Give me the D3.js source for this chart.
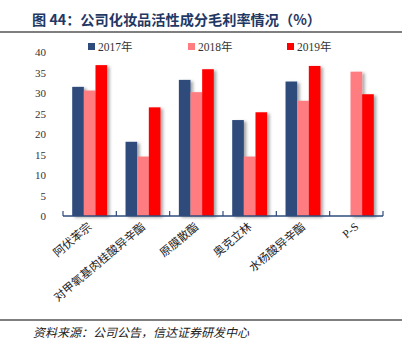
<!DOCTYPE html>
<html><head><meta charset="utf-8">
<script src="https://cdn.jsdelivr.net/npm/d3@7"></script>
<style>body{margin:0;background:#fff;}svg{display:block;}</style>
</head><body>
<svg id="c" width="408" height="342"></svg>
<script>
const categories = ["阿伏苯宗","对甲氧基肉桂酸异辛酯","原膜散酯","奥克立林","水杨酸异辛酯","P-S"];
const seriesNames = ["2017年","2018年","2019年"];
const s2017 = [31.5, 18.1, 33.2, 23.4, 32.8, null];
const s2018 = [30.6, 14.5, 30.2, 14.5, 28.1, 35.2];
const s2019 = [36.8, 26.5, 35.8, 25.3, 36.6, 29.7];
const yTicks = [0,5,10,15,20,25,30,35,40];
const colors = ["#2F4B7C","#FF7C80","#FF0000"];
const title = "图 44：公司化妆品活性成分毛利率情况（%）";
const source = "资料来源：公司公告，信达证券研发中心";

const svg = d3.select("#c");
const serif = "'Times New Roman','Liberation Serif','Noto Sans CJK SC',serif";
const cjk = "'Noto Sans CJK SC',sans-serif";

// title
svg.append("text").attr("x",32).attr("y",25).attr("font-family",cjk).attr("font-weight","bold")
  .attr("font-size",14.2).attr("fill","#1F3864").text(title);
svg.append("line").attr("x1",0).attr("x2",402).attr("y1",32).attr("y2",32).attr("stroke","#555").attr("stroke-width",1.5);

const x0 = d3.scaleBand().domain(categories).range([63,383]).paddingInner(0).paddingOuter(0);
const x1 = d3.scaleBand().domain(seriesNames).range([9.2, x0.bandwidth()-9.2]).padding(0);
const y = d3.scaleLinear().domain([0,40]).range([216,52]);

const defs = svg.append("defs");
const f = defs.append("filter").attr("id","sh").attr("x","-20%").attr("y","-5%").attr("width","160%").attr("height","110%");
f.append("feDropShadow").attr("dx",2.5).attr("dy",1.5).attr("stdDeviation",1.5).attr("flood-color","#000").attr("flood-opacity",0.35);

// y labels
svg.append("g").selectAll("text").data(yTicks).join("text")
  .attr("x",46).attr("y",d=>y(d)+4).attr("text-anchor","end")
  .attr("font-family",serif).attr("font-size",11).attr("fill","#333").text(d=>d);

const data = [s2017,s2018,s2019];
seriesNames.forEach((s,si)=>{
  svg.append("g").attr("filter","url(#sh)").selectAll("rect")
    .data(categories.map((c,i)=>({c,v:data[si][i]})).filter(d=>d.v!=null))
    .join("rect")
    .attr("x",d=>x0(d.c)+x1(s)).attr("width",x1.bandwidth())
    .attr("y",d=>y(d.v)).attr("height",d=>y(0)-y(d.v))
    .attr("fill",colors[si]);
});

// x axis
const ax = svg.append("g");
ax.append("line").attr("x1",63).attr("x2",383).attr("y1",216).attr("y2",216).attr("stroke","#2F4B7C").attr("stroke-width",1.5);
const bounds = categories.map(c=>x0(c)).concat([383]);
ax.selectAll("line.t").data(bounds).join("line").attr("class","t")
  .attr("x1",d=>d).attr("x2",d=>d).attr("y1",216).attr("y2",211).attr("stroke","#2F4B7C").attr("stroke-width",1.2);

svg.append("g").selectAll("text").data(categories).join("text")
  .attr("transform",d=>`translate(${x0(d)+x0.bandwidth()/2+3},${228}) rotate(-40)`)
  .attr("text-anchor","end").attr("font-family",serif).attr("font-size",11.5).attr("fill","#222").text(d=>d);

// legend
const lx = [88,188,287];
seriesNames.forEach((s,i)=>{
  svg.append("rect").attr("x",lx[i]).attr("y",43).attr("width",7).attr("height",7).attr("fill",colors[i]);
  svg.append("text").attr("x",lx[i]+10).attr("y",50.5).attr("font-family",serif).attr("font-size",11.5).attr("fill","#333").text(s);
});

// footer
svg.append("line").attr("x1",0).attr("x2",402).attr("y1",320).attr("y2",320).attr("stroke","#555").attr("stroke-width",1.5);
svg.append("text").attr("x",33).attr("y",337).attr("font-family",cjk).attr("font-style","italic")
  .attr("font-size",12).attr("fill","#222").text(source);
</script>
</body></html>
